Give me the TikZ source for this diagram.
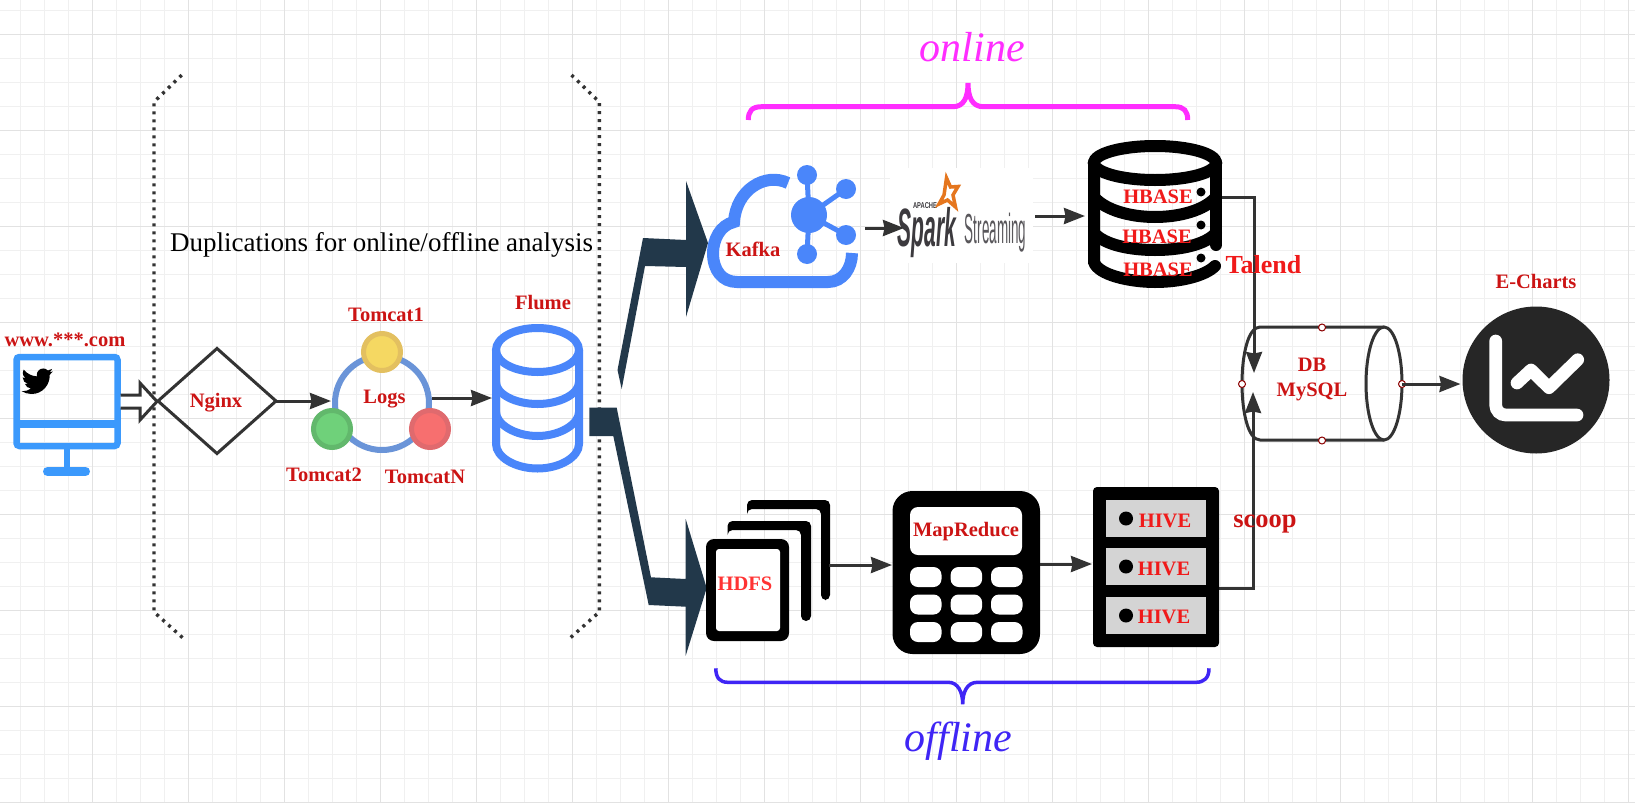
\documentclass[tikz,border=0pt]{standalone}
\usepackage{fontspec}
\usepackage{graphicx}
\setmainfont{Liberation Serif}
\newfontfamily\arialfont{Liberation Sans}
\usetikzlibrary{arrows.meta,shapes.geometric}
\definecolor{gridminor}{HTML}{F0F0F0}
\definecolor{gridmajor}{HTML}{E2E2E2}
\definecolor{ink}{HTML}{333333}
\definecolor{darkred}{HTML}{CC1414}
\definecolor{brightred}{HTML}{F01A1A}
\definecolor{monblue}{HTML}{3B99FC}
\definecolor{iconblue}{HTML}{4A86FA}
\definecolor{navy}{HTML}{22384A}
\definecolor{ringblue}{HTML}{6A94D8}
\definecolor{magentaC}{HTML}{FF2DFF}
\definecolor{indigoC}{HTML}{3F25F5}
\definecolor{sparkorange}{HTML}{E5761E}
\definecolor{sparkgrey}{HTML}{3C3A3E}
\definecolor{yfill}{HTML}{F5D862}
\definecolor{ystroke}{HTML}{E3C060}
\definecolor{gfill}{HTML}{6FD17A}
\definecolor{gstroke}{HTML}{62B86C}
\definecolor{rfill}{HTML}{F76F6F}
\definecolor{rstroke}{HTML}{E06A6E}
\tikzset{
  box/.style={inner sep=0pt,outer sep=0pt,minimum width=#1},
  lab/.style={font=\fontsize{20.5}{25}\selectfont\bfseries,text=darkred,inner sep=0pt,align=center},
  labr/.style={lab,text=brightred},
  conn/.style={draw=ink,line width=3pt,-{Stealth[length=21pt,width=16pt,inset=1.5pt]}},
  dotbr/.style={draw=ink,line width=3.4pt,dash pattern=on 3pt off 5pt},
  handle/.style={circle,draw=red!55!black,fill=white,line width=1pt,minimum size=7pt,inner sep=0pt},
  tomcat/.style={circle,line width=5pt,minimum size=37pt,inner sep=0pt,outer sep=0pt},
}
\begin{document}
\begin{tikzpicture}[x=1pt,y=-1pt]
\useasboundingbox (0,0) rectangle (1635,803);
\fill[white] (0,0) rectangle (1635,803);
% grid
\foreach \i in {0,...,68} {\draw[gridminor,line width=1pt] ({20.5+24*\i},0) -- ({20.5+24*\i},803);}
\foreach \i in {0,...,33} {\draw[gridminor,line width=1pt] (0,{10.3+24*\i}) -- (1635,{10.3+24*\i});}
\foreach \i in {0,...,16} {\draw[gridmajor,line width=1pt] ({92.5+96*\i},0) -- ({92.5+96*\i},803);}
\foreach \i in {0,...,8} {\draw[gridmajor,line width=1pt] (0,{34.3+96*\i}) -- (1635,{34.3+96*\i});}
% brackets
\draw[dotbr] (181.7,75) -- (154,102) -- (154,612) -- (184,639);
\draw[dotbr] (571.5,75) -- (599.3,102) -- (599.3,612) -- (569,639);
\node[font=\fontsize{27}{30}\selectfont,inner sep=0pt] (dup) at (381.6,244.5) {Duplications for online/offline analysis};
% monitor
\node[box=107pt,minimum height=95pt] (monitor) at (67,401.5) {};
\draw[monblue,line width=6.5pt,rounded corners=3pt] (16.5,357) rectangle (117.5,446);
\draw[monblue,line width=8pt] (16.5,424) -- (117.5,424);
\draw[monblue,line width=6pt] (67,449) -- (67,470);
\draw[monblue,line width=9pt,line cap=round] (47.5,471.5) -- (85.5,471.5);
\fill[black] (21.5,365.5) ++(23.95*1.31,4.57*1.31)
 .. controls (21.5+23.1*1.31,365.5+4.95*1.31) and (21.5+22.1*1.31,365.5+5.2*1.31) .. (21.5+21.13*1.31,365.5+5.35*1.31)
 .. controls (21.5+22.1*1.31,365.5+4.75*1.31) and (21.5+22.95*1.31,365.5+3.75*1.31) .. (21.5+23.29*1.31,365.5+2.62*1.31)
 .. controls (21.5+22.34*1.31,365.5+3.18*1.31) and (21.5+21.29*1.31,365.5+3.58*1.31) .. (21.5+20.16*1.31,365.5+3.8*1.31)
 .. controls (21.5+19.2*1.31,365.5+2.8*1.31) and (21.5+17.9*1.31,365.5+2.25*1.31) .. (21.5+16.6*1.31,365.5+2.25*1.31)
 .. controls (21.5+13.9*1.31,365.5+2.25*1.31) and (21.5+11.68*1.31,365.5+4.45*1.31) .. (21.5+11.68*1.31,365.5+7.17*1.31)
 -- (21.5+11.78*1.31,365.5+8.29*1.31)
 .. controls (21.5+7.69*1.31,365.5+8.095*1.31) and (21.5+4.067*1.31,365.5+6.13*1.31) .. (21.5+1.64*1.31,365.5+3.16*1.31)
 .. controls (21.5+1.2*1.31,365.5+3.9*1.31) and (21.5+0.97*1.31,365.5+4.75*1.31) .. (21.5+0.97*1.31,365.5+5.64*1.31)
 .. controls (21.5+0.97*1.31,365.5+7.35*1.31) and (21.5+1.84*1.31,365.5+8.85*1.31) .. (21.5+3.16*1.31,365.5+9.73*1.31)
 .. controls (21.5+2.35*1.31,365.5+9.7*1.31) and (21.5+1.6*1.31,365.5+9.5*1.31) .. (21.5+0.93*1.31,365.5+9.12*1.31)
 -- (21.5+0.93*1.31,365.5+9.18*1.31)
 .. controls (21.5+0.93*1.31,365.5+11.55*1.31) and (21.5+2.63*1.31,365.5+13.55*1.31) .. (21.5+4.88*1.31,365.5+14*1.31)
 .. controls (21.5+4.15*1.31,365.5+14.2*1.31) and (21.5+3.4*1.31,365.5+14.25*1.31) .. (21.5+2.66*1.31,365.5+14.09*1.31)
 .. controls (21.5+3.3*1.31,365.5+16.05*1.31) and (21.5+5.1*1.31,365.5+17.45*1.31) .. (21.5+7.27*1.31,365.5+17.5*1.31)
 .. controls (21.5+5.55*1.31,365.5+18.85*1.31) and (21.5+3.45*1.31,365.5+19.6*1.31) .. (21.5+1.17*1.31,365.5+19.6*1.31)
 .. controls (21.5+0.78*1.31,365.5+19.6*1.31) and (21.5+0.39*1.31,365.5+19.58*1.31) .. (21.5,365.5+19.54*1.31)
 .. controls (21.5+2.15*1.31,365.5+20.9*1.31) and (21.5+4.75*1.31,365.5+21.75*1.31) .. (21.5+7.56*1.31,365.5+21.75*1.31)
 .. controls (21.5+16.6*1.31,365.5+21.75*1.31) and (21.5+21.55*1.31,365.5+14.25*1.31) .. (21.5+21.55*1.31,365.5+7.76*1.31)
 -- (21.5+21.54*1.31,365.5+7.13*1.31)
 .. controls (21.5+22.5*1.31,365.5+6.4*1.31) and (21.5+23.35*1.31,365.5+5.55*1.31) .. cycle;
\node[lab] (wwwlabel) at (65,340) {www.***.com};
% hollow arrow
\draw[ink,fill=white,line width=3pt,line join=miter] (monitor.east) ++(0,-6.5) -- ++(19.5,0) -- ++(0,-12) -- ++(17,18.5) -- ++(-17,18.5) -- ++(0,-12) -- ++(-19.5,0);
% nginx
\node[diamond,draw=ink,fill=none,line width=3pt,minimum width=118pt,minimum height=105pt,aspect=1.12,inner sep=0pt,outer sep=0pt] (nginx) at (217,401) {};
\node[lab] (nginxlabel) at (216,402.5) {Nginx};
% logs
\node[circle,draw=ringblue,line width=6pt,minimum size=94pt,inner sep=0pt,outer sep=0pt] (logs) at (382,403) {};
\node[tomcat,draw=ystroke,fill=yfill] (t1) at (382,352) {};
\node[tomcat,draw=gstroke,fill=gfill] (t2) at (332,429) {};
\node[tomcat,draw=rstroke,fill=rfill] (t3) at (430,429) {};
\node[lab] (logslabel) at (384.5,399) {Logs};
\node[lab] (t1label) at (386,314.5) {Tomcat1};
\node[lab] (t2label) at (324,474.5) {Tomcat2};
\node[lab] (t3label) at (425,476.5) {TomcatN};
\draw[conn] (nginx.east) -- ([xshift=-4pt]logs.west |- nginx.east);
% flume
\node[box=91pt,minimum height=150pt] (flume) at (537.5,398) {};
\begin{scope}[iconblue,line width=8pt]
\draw (537.5,350) ellipse [x radius=41.5,y radius=22];
\draw (496,350) -- (496,444) .. controls (496,457) and (515,468.5) .. (537.5,468.5) .. controls (560,468.5) and (579,457) .. (579,444) -- (579,350);
\draw (496,382) .. controls (496,394) and (515,404) .. (537.5,404) .. controls (560,404) and (579,394) .. (579,382);
\draw (496,412) .. controls (496,424) and (515,436) .. (537.5,436) .. controls (560,436) and (579,424) .. (579,412);
\end{scope}
\node[lab] (flumelabel) at (543,302.5) {Flume};
\draw[conn] ([xshift=3pt]logs.east |- flume.west) -- (flume.west);
% thick arrows
\fill[navy] (617.5,370) -- (643,238) -- (686,240) -- (686,181) -- (708,243) -- (686,317) -- (686,267) -- (645,266) -- (621.7,389) -- cycle;
\fill[navy] (589.3,407.7) -- (616.7,407.7) -- (651,577.3) -- (685.7,579) -- (685.7,519) -- (706.7,588) -- (685.7,655.7) -- (685.7,606.7) -- (648.7,605) -- (613.3,436) -- (589.3,436) -- cycle;
% kafka
\node[box=150pt,minimum height=123pt] (kafka) at (782,226.5) {};
\draw[iconblue,line width=12pt] (788,183) .. controls (765,172) and (736,190) .. (734,222) .. controls (720,225) and (713,240) .. (713,253) .. controls (713,270) and (722,282) .. (737,282) -- (828,282) .. controls (843,282) and (852,268) .. (852,253);
\fill[iconblue] (809,215) circle [radius=18];
\foreach \a/\b in {807/175,846/189,846/235,807/254} {
  \draw[iconblue,line width=5pt] (809,215) -- (\a,\b);
  \fill[iconblue] (\a,\b) circle [radius=10];
}
\node[lab] (kafkalabel) at (753,249.5) {Kafka};
% spark
\fill[white] (890,168) rectangle (1033,263);
\node[box=143pt,minimum height=95pt] (spark) at (961.5,215.5) {};
\node[inner sep=0pt,text=sparkgrey] (sparkword) at (927,232.5) {\scalebox{.39}[1]{\fontsize{54}{54}\selectfont\arialfont\bfseries\itshape Spark}};
\node[inner sep=0pt,text=sparkgrey!85] (streamword) at (995.5,232.5) {\scalebox{.32}[1]{\fontsize{42}{42}\selectfont\arialfont Streaming}};
\node[inner sep=0pt,text=sparkgrey] (apache) at (925,205.5) {\scalebox{.68}[1]{\fontsize{8.5}{9}\selectfont\arialfont\bfseries APACHE}};
\draw[sparkorange,line width=3.5pt,line join=miter] (946.5,178) -- (950.5,187) -- (958,186.5) -- (953,195) -- (955.5,207) -- (947.5,200) -- (939,204) -- (944,195) -- cycle;
\coordinate (kafkaout) at (865,228);
\coordinate (sparkin) at (904,228);
\draw[conn] (kafkaout) -- (sparkin);
% hbase
\node[box=134pt,minimum height=148pt] (hbase) at (1155,213) {};
\begin{scope}[black,line width=12pt,line cap=round]
\draw (1155,163) ellipse [x radius=61,y radius=17];
\draw (1094,162) -- (1094,262) .. controls (1098,275) and (1130,282) .. (1155,282) .. controls (1180,282) and (1205,276) .. (1215,266);
\draw (1216,162) -- (1216,245);
\draw (1094,197) .. controls (1105,210) and (1130,217) .. (1155,217) .. controls (1180,217) and (1205,210) .. (1216,197);
\draw (1094,233) .. controls (1105,245) and (1130,250) .. (1155,250) .. controls (1180,250) and (1205,245) .. (1216,233);
\end{scope}
\foreach \b in {192,225,258} {\fill[black] (1201,\b) circle [radius=4.5];}
\coordinate (sparkout) at (1035,216);
\coordinate (hbasein) at (1085,216);
\draw[conn] (sparkout) -- (hbasein);
% db
\node[box=160pt,minimum height=113pt] (db) at (1322,384) {};
\begin{scope}[ink,line width=3pt]
\draw (1384,327) -- (1260,327) .. controls (1248,327) and (1242,355) .. (1242,383.5) .. controls (1242,412) and (1248,440) .. (1260,440) -- (1384,440);
\draw (1384,383.5) ellipse [x radius=18,y radius=56.5];
\end{scope}
\node[lab] (dblabel) at (1312,379) {DB\\MySQL};
% connectors to db
\coordinate (dbin1) at (1254,373);
\coordinate (dbin2) at (1253,392);
\coordinate (hbaseout) at (1222,197);
\coordinate (hiveout) at (1219,588);
\draw[conn] (hbaseout) -| (dbin1);
\draw[conn] (hiveout) -| (dbin2);
\node[handle] (h1) at (db.north) {};
\node[handle] (h2) at (db.south) {};
\node[handle] (h3) at (db.west) {};
\node[handle] (h4) at (db.east) {};
% hbase labels
\node[labr] (hb1) at (1158,196.5) {HBASE};
\node[labr] (hb2) at (1157,236.5) {HBASE};
\node[labr] (hb3) at (1158,269.5) {HBASE};
\node[labr,font=\fontsize{26}{30}\selectfont\bfseries] (talend) at (1263.5,265) {Talend};
% echarts
\node[circle,fill=black!85,minimum size=147pt,inner sep=0pt,outer sep=0pt] (chart) at (1536,380) {};
\draw[white,line width=12.7pt,line cap=round,rounded corners=10pt] (1495.7,341) -- (1495.7,415) -- (1577,415);
\draw[white,line width=12.7pt,line cap=round,line join=round] (1517,383) -- (1531,370) -- (1549,387.7) -- (1577.7,359.7);
\node[lab] (chartlabel) at (1536,281) {E-Charts};
\draw[conn] (db.east) -- ([xshift=-2pt]chart.west |- db.east);
% hdfs
\node[box=124pt,minimum height=141pt] (hdfs) at (768,570.5) {};
\fill[black,rounded corners=5pt] (747,512) -- (747,500) -- (830,500) -- (830,600) -- (821,600) -- (821,509) -- (747,509) -- cycle;
\fill[black,rounded corners=5pt] (727.5,533) -- (727.5,521) -- (811,521) -- (811,621) -- (801,621) -- (801,530) -- (727.5,530) -- cycle;
\fill[black,rounded corners=8pt] (706,539) rectangle (789,641);
\fill[white,rounded corners=3pt] (716,549) rectangle (780,631);
\node[labr,text=red!80!white] (hdfslabel) at (745,584) {HDFS};
% mapreduce
\node[box=147.5pt,minimum height=163pt] (mr) at (966.2,572.5) {};
\fill[black,rounded corners=20pt] (892.5,491) rectangle (1040,654);
\fill[white,rounded corners=8pt] (910,507) rectangle (1022,555);
\foreach \yy in {567,594.5,622} {
  \foreach \xx in {910,950.6,991} {
    \fill[white,rounded corners=8pt] (\xx,\yy) rectangle (\xx+31.5,\yy+20);
  }
}
\node[lab] (mrlabel) at (966,531.5) {MapReduce};
\coordinate (hdfsout) at (829,565);
\coordinate (mrin) at (892,565);
\draw[conn] (hdfsout) -- (mrin);
% hive
\node[box=126pt,minimum height=160pt] (hive) at (1156,567) {};
\fill[black,rounded corners=4pt] (1093,487) rectangle (1219,647);
\foreach \yy in {500,548,597} {
  \fill[black!17] (1106,\yy) rectangle (1206,\yy+37);
  \fill[black] (1126,\yy+18.5) circle [radius=7];
}
\node[labr] (hv1) at (1165,521) {HIVE};
\node[labr] (hv2) at (1164,569) {HIVE};
\node[labr] (hv3) at (1164,617) {HIVE};
\coordinate (mrout) at (1040,564);
\coordinate (hivein) at (1092,564);
\draw[conn] (mrout) -- (hivein);
\node[lab,font=\fontsize{26.5}{30}\selectfont\bfseries] (scoop) at (1265,524) {scoop};
% braces
\draw[magentaC,line width=5pt] (748.3,120) .. controls (748.3,111) and (752,106.7) .. (761.7,106.7) -- (953,106.7) .. controls (964,106.7) and (968,97) .. (968,83) .. controls (968,97) and (972,106.7) .. (983.3,106.7) -- (1175,106.7) .. controls (1184,106.7) and (1187.7,111) .. (1187.7,120);
\node[text=magentaC,font=\fontsize{42}{46}\selectfont\itshape,inner sep=0pt] (online) at (972.3,47) {online};
\draw[indigoC,line width=3.5pt] (715.8,668.3) .. controls (715.8,678) and (720,682.3) .. (727.9,682.3) -- (948.3,682.3) .. controls (958,682.3) and (962.7,692) .. (962.7,704.3) .. controls (962.7,692) and (967,682.3) .. (977.5,682.3) -- (1196,682.3) .. controls (1204,682.3) and (1209,678) .. (1209,668.3);
\node[text=indigoC,font=\fontsize{42}{46}\selectfont\itshape,inner sep=0pt] (offline) at (958.6,741) {offline};
\end{tikzpicture}
\end{document}
